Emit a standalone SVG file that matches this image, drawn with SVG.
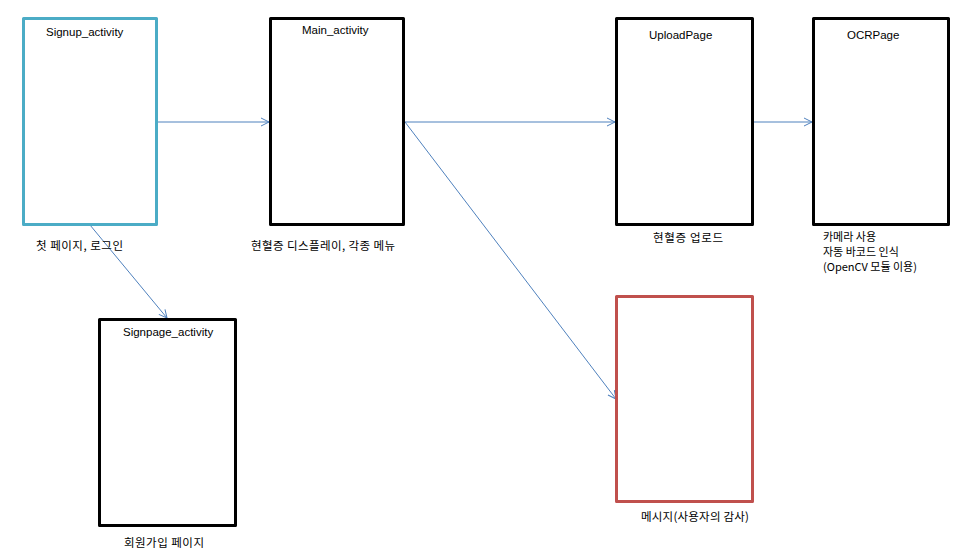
<svg xmlns="http://www.w3.org/2000/svg" width="962" height="559" viewBox="0 0 962 559">
<style>
.box{fill:#fff;stroke:#000;stroke-width:3;stroke-linejoin:round}
.blue{stroke:#4BACC6}
.red{stroke:#C0504D}
.t{font-family:"Liberation Sans","Noto Sans CJK KR",sans-serif;font-size:11.5px;fill:#000}
.k{font-family:"Noto Sans CJK KR","Liberation Sans",sans-serif;font-size:11.5px;fill:#000}
.s{font-size:11px}
.c{fill:none;stroke:#4F81BD;stroke-width:1}
</style>
<defs>
<marker id="ah" markerUnits="userSpaceOnUse" markerWidth="12" markerHeight="12" refX="9" refY="5" orient="auto">
<path d="M1,1 L9,5 L1,9" fill="none" stroke="#4F81BD" stroke-width="1"/>
</marker>
</defs>
<rect width="962" height="559" fill="#fff"/>
<g id="connectors">
<line class="c" x1="158" y1="122" x2="269" y2="122" marker-end="url(#ah)"/>
<line class="c" x1="405" y1="122" x2="615" y2="122" marker-end="url(#ah)"/>
<line class="c" x1="754" y1="122" x2="812" y2="122" marker-end="url(#ah)"/>
<line class="c" x1="405" y1="122" x2="616" y2="399" marker-end="url(#ah)"/>
<line class="c" x1="90" y1="225" x2="167" y2="318" marker-end="url(#ah)"/>
</g>
<g id="signup">
<rect class="box blue" x="23.5" y="18.5" width="133" height="206"/>
<text class="t" x="46" y="36">Signup_activity</text>
<text class="k" x="36" y="250" textLength="87" lengthAdjust="spacing">첫 페이지, 로그인</text>
</g>
<g id="main">
<rect class="box" x="270.5" y="18.5" width="133" height="206"/>
<text class="t" x="302" y="34">Main_activity</text>
<text class="k" x="251" y="250" textLength="144" lengthAdjust="spacing">현혈증 디스플레이, 각종 메뉴</text>
</g>
<g id="upload">
<rect class="box" x="616.5" y="18.5" width="136" height="206"/>
<text class="t" x="649" y="39">UploadPage</text>
<text class="k" x="653" y="242" textLength="70" lengthAdjust="spacing">현혈증 업로드</text>
</g>
<g id="ocr">
<rect class="box" x="813.5" y="18.5" width="135" height="206"/>
<text class="t" x="847" y="39">OCRPage</text>
<text class="k s" x="823" y="241">카메라 사용</text>
<text class="k s" x="823" y="256">자동 바코드 인식</text>
<text class="k s" x="823" y="271">(OpenCV 모듈 이용)</text>
</g>
<g id="message">
<rect class="box red" x="616.5" y="296.5" width="136" height="205"/>
<text class="k" x="641" y="521" textLength="108" lengthAdjust="spacing">메시지(사용자의 감사)</text>
</g>
<g id="signpage">
<rect class="box" x="99.5" y="319.5" width="136" height="206"/>
<text class="t" x="123" y="336">Signpage_activity</text>
<text class="k" x="124" y="547" textLength="80" lengthAdjust="spacing">회원가입 페이지</text>
</g>
</svg>
